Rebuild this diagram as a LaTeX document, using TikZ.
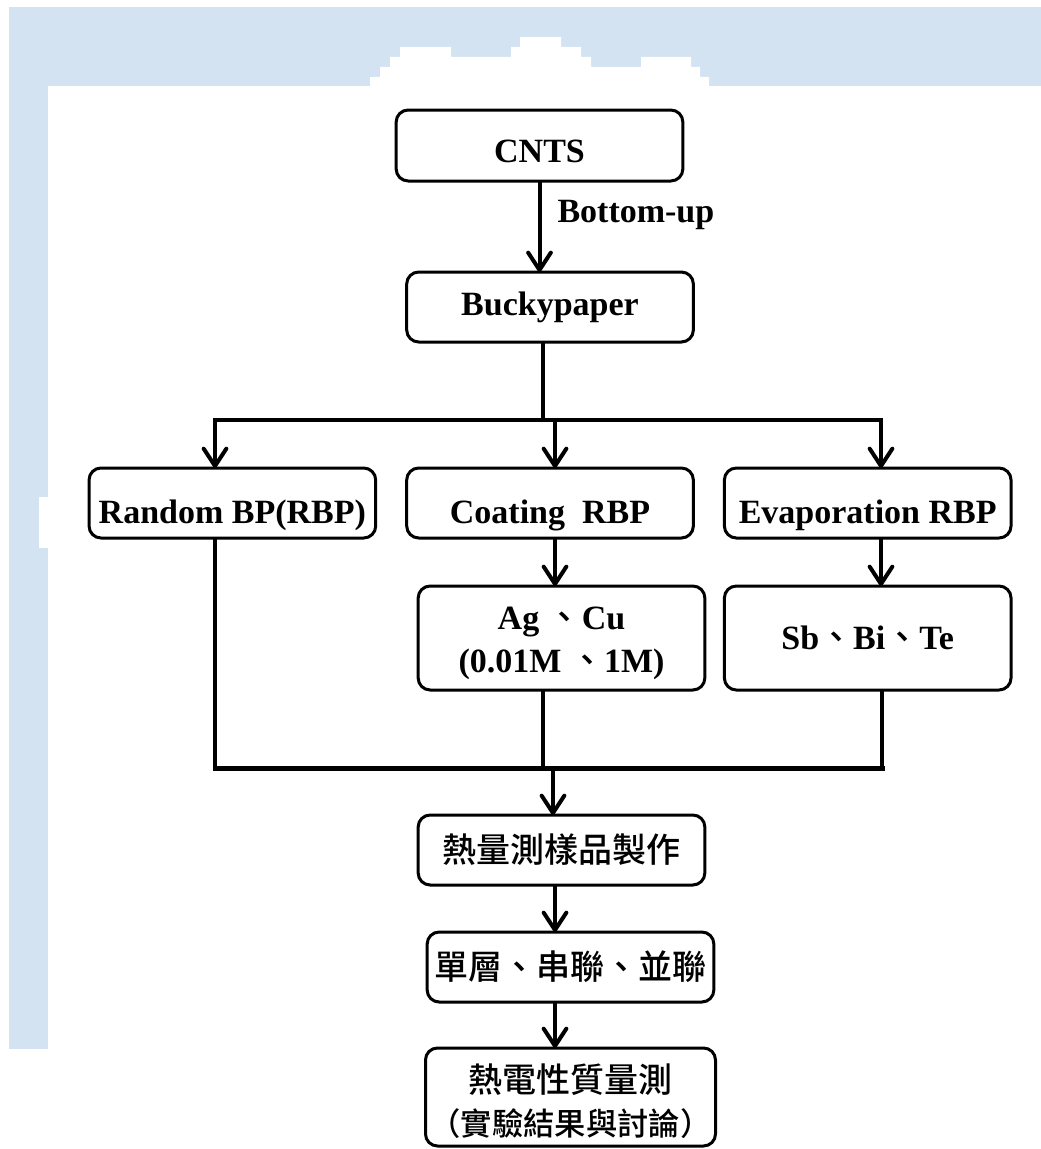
\documentclass[tikz,border=0pt]{standalone}
\usepackage{fontspec}
\setmainfont{Liberation Serif}
\IfFontExistsTF{Noto Sans CJK TC Medium}
  {\newfontfamily\cjk{Noto Sans CJK TC Medium}}
  {\newfontfamily\cjk{Noto Sans CJK TC}}
\usepackage{tikz}
\usetikzlibrary{positioning,arrows.meta}
\tikzset{px/.style={x=0.75pt,y=-0.75pt}}
\definecolor{fundo}{HTML}{D3E3F2}
\definecolor{traco}{HTML}{000000}
\newcommand{\zh}{\cjk\mdseries}
\tikzset{
  etapa/.style={draw=traco,line width=2.25pt,rounded corners=9pt,fill=white,
    minimum width=215pt,minimum height=52.5pt,inner sep=3pt,outer sep=0pt,align=center,
    font=\fontsize{25.5pt}{32pt}\selectfont\bfseries},
  etapaalta/.style={etapa,minimum height=78pt},
  fio/.style={draw=traco,line width=3pt},
  seta/.style={fio,-{Straight Barb[length=13pt,width=17pt,round]}},
  rotulo/.style={font=\fontsize{25.5pt}{32pt}\selectfont\bfseries,inner sep=0pt},
}

\begin{document}
\begin{tikzpicture}[px]
  \useasboundingbox (0,0) rectangle (1041,1149);
  % fundo azul
  \fill[fundo] (9,7) rectangle (1041,86);
  \fill[fundo] (9,86) rectangle (48,1049);
  \fill[white] (370,86) -- (370,77) -- (380,77) -- (380,67) -- (390,67) -- (390,57) -- (400,57) -- (400,47)
    -- (451,47) -- (451,57) -- (511,57) -- (511,47) -- (520,47) -- (520,37) -- (561,37) -- (561,47)
    -- (581,47) -- (581,57) -- (591,57) -- (591,67) -- (641,67) -- (641,57) -- (691,57) -- (691,67)
    -- (700,67) -- (700,77) -- (709,77) -- (709,86) -- cycle;
  \fill[white] (39,497) rectangle (48,548);
  % etapas
  \node[etapa,minimum height=53.25pt,text height=26pt,text depth=0pt] (cnts) at (539.5,145.5) {CNTS};
  \node[etapa,below=68.25pt of cnts,xshift=7.9pt] (bp) {Buckypaper};
  \node[etapa,below=94.5pt of bp,text height=31pt,text depth=0pt] (crbp) {Coating\ \ RBP};
  \node[etapa,left=23.25pt of crbp,text height=31pt,text depth=0pt] (rbp) {Random BP(RBP)};
  \node[etapa,right=23.25pt of crbp,text height=31pt,text depth=0pt] (erbp) {Evaporation RBP};
  \node[etapaalta,below=36pt of crbp,xshift=8.6pt] (agcu) {\rule{0pt}{25pt}Ag {\zh 、}Cu\\(0.01M {\zh 、}1M)};
  \node[etapaalta,below=36pt of erbp] (sbbite) {Sb{\zh 、}Bi{\zh 、}Te};
  \node[etapa,below=93.75pt of agcu] (amostra) {{\zh 熱量測樣品製作}};
  \node[etapa,below=35.25pt of amostra,xshift=6.75pt] (ligacao) {{\zh 單層、串聯、並聯}};
  \node[etapa,below=34.5pt of ligacao,minimum height=73.5pt] (medida)
    {\rule{0pt}{28pt}{\zh 熱電性質量測}\\{\zh\fontsize{23.5pt}{32pt}\selectfont （實驗結果與討論）}};
  % barras
  \coordinate (eL) at (215,420);
  \coordinate (eM) at (543,420);
  \coordinate (eR) at (881,420);
  \coordinate (dM) at (555,420);
  \coordinate (jL) at (215,768);
  \coordinate (jR) at (882,768);
  \coordinate (jD) at (553,768);
  \draw[seta] (cnts.south) -- node[rotulo,pos=0.37,right=12pt] (bu) {Bottom-up} (cnts.south |- bp.north);
  \draw[fio] (eM |- bp.south) -- (eM);
  \draw[fio,line cap=rect] (eL) -- (eR);
  \draw[seta] (eL) -- (eL |- rbp.north);
  \draw[seta] (dM) -- (dM |- crbp.north);
  \draw[seta] (eR) -- (eR |- erbp.north);
  \draw[seta] (dM |- crbp.south) -- (dM |- agcu.north);
  \draw[seta] (eR |- erbp.south) -- (eR |- sbbite.north);
  \draw[fio] (eL |- rbp.south) -- (jL);
  \draw[fio] (eM |- agcu.south) -- (eM |- jL);
  \draw[fio] (jR |- sbbite.south) -- (jR);
  \draw[fio,line width=3.75pt,line cap=rect] (jL) -- (jR);
  \draw[seta] (jD) -- (jD |- amostra.north);
  \draw[seta] (dM |- amostra.south) -- (dM |- ligacao.north);
  \draw[seta] (dM |- ligacao.south) -- (dM |- medida.north);
\end{tikzpicture}
\end{document}
